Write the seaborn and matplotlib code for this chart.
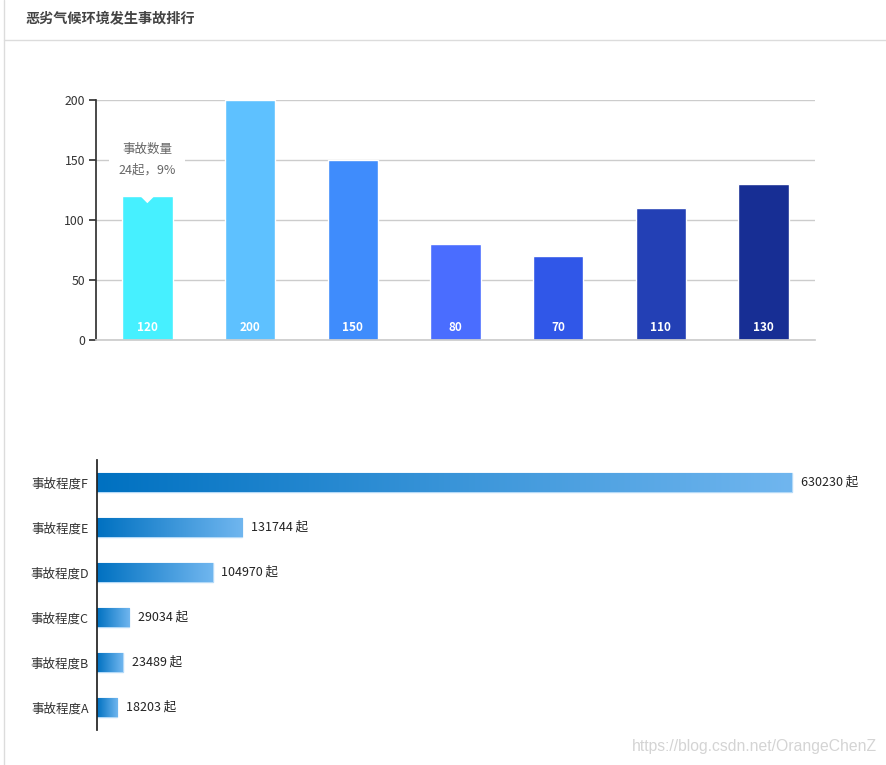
"""
Bad-weather accident ranking: column chart on top, gradient bar chart below.
"""

import numpy as np
import pandas as pd
import seaborn as sns
import matplotlib.pyplot as plt
from matplotlib.patches import Rectangle, Polygon
from matplotlib.colors import LinearSegmentedColormap
from matplotlib.lines import Line2D

# Data
title = '恶劣气候环境发生事故排行'
col_cats = ['1', '2', '3', '4', '5', '6', '7']
col_values = [120, 200, 150, 80, 70, 110, 130]
col_colors = ['#46F0FF', '#5EC1FF', '#3F8CFC', '#4A6DFF', '#3057E8', '#2340B5', '#172E94']
y_ticks = [0, 50, 100, 150, 200]
tip_title = '事故数量'
tip_text = '24起，9%'

bar_cats = ['事故程度F', '事故程度E', '事故程度D', '事故程度C', '事故程度B', '事故程度A']
bar_values = [630230, 131744, 104970, 29034, 23489, 18203]
unit = '起'
watermark = 'https://blog.csdn.net/OrangeChenZ'

W, H = 887, 765
sns.set_theme(style='white')
plt.rcParams['font.family'] = ['Noto Sans CJK SC', 'DejaVu Sans']

fig = plt.figure(figsize=(W / 100, H / 100), dpi=100)
fig.patch.set_facecolor('white')


def px_rect(left, top, right, bottom):
    return [left / W, 1 - bottom / H, (right - left) / W, (bottom - top) / H]


# frame lines and title
fig.add_artist(Line2D([4.5 / W, 4.5 / W], [0, 1], color='#dcdcdc', lw=1))
fig.add_artist(Line2D([4.5 / W, 1], [1 - 39.5 / H, 1 - 39.5 / H], color='#dcdcdc', lw=1))
fig.text(25 / W, 1 - 19 / H, title, fontsize=10.2, color='#444444', fontweight='bold',
         va='center', ha='left')

# ---- top column chart ----
ax1 = fig.add_axes(px_rect(96, 100, 815, 340))
df1 = pd.DataFrame({'cat': col_cats, 'value': col_values})
sns.barplot(data=df1, x='cat', y='value', hue='cat', palette=col_colors, legend=False,
            width=0.49, saturation=1, ax=ax1, zorder=2)
ax1.set_ylim(0, 200)
ax1.set_xlim(-0.5, len(col_cats) - 0.5)
ax1.set_yticks(y_ticks)
ax1.set_xticks([])
ax1.set_xlabel('')
ax1.set_ylabel('')
ax1.yaxis.grid(True, color='#cccccc', lw=1, zorder=0)
ax1.set_axisbelow(True)
for s in ['top', 'right']:
    ax1.spines[s].set_visible(False)
ax1.spines['left'].set_color('#333333')
ax1.spines['bottom'].set_color('#cccccc')
ax1.tick_params(axis='y', left=True, length=5, color='#333333', labelsize=8.8,
                labelcolor='#333333', pad=3)
for i, v in enumerate(col_values):
    ax1.text(i, 5, str(v), ha='center', va='bottom', color='white', fontsize=8.5,
             fontweight='bold', zorder=4)

# tooltip over first column
ax1.add_patch(Rectangle((-0.37, col_values[0]), 0.74, 55, facecolor='white',
                        edgecolor='none', zorder=3))
ax1.add_patch(Polygon([(-0.07, col_values[0]), (0.07, col_values[0]), (0, col_values[0] - 6)],
                      closed=True, facecolor='white', edgecolor='none', zorder=3))
ax1.text(0, 159, tip_title, ha='center', va='center', fontsize=9, color='#666666', zorder=4)
ax1.text(0, 141.5, tip_text, ha='center', va='center', fontsize=9, color='#666666', zorder=4)

# ---- bottom gradient bar chart ----
ax2 = fig.add_axes(px_rect(97, 460, 887, 730))
df2 = pd.DataFrame({'cat': bar_cats, 'value': bar_values})
sns.barplot(data=df2, y='cat', x='value', orient='h', color='#2a8ad6', width=0.44,
            saturation=1, ax=ax2)
xmax = bar_values[0] * (887 - 97) / 695
ax2.set_xlim(0, xmax)
ax2.set_xlabel('')
ax2.set_ylabel('')
ax2.set_xticks([])
for s in ['top', 'right', 'bottom']:
    ax2.spines[s].set_visible(False)
ax2.spines['left'].set_color('#222222')
ax2.tick_params(axis='y', left=False, length=0, labelsize=9, labelcolor='#333333', pad=6)

cmap = LinearSegmentedColormap.from_list('grad', ['#0071C1', '#70B6EF'])
grad = np.linspace(0, 1, 256).reshape(1, -1)
for p in ax2.patches:
    x0, y0 = p.get_x(), p.get_y()
    w, h = p.get_width(), p.get_height()
    p.set_facecolor('none')
    p.set_edgecolor('#b3d9f7')
    p.set_linewidth(1)
    im = ax2.imshow(grad, cmap=cmap, aspect='auto', extent=[x0, x0 + w, y0 + h, y0],
                    zorder=1)
    im.set_clip_path(p)
ax2.set_xlim(0, xmax)
ax2.set_ylim(len(bar_cats) - 0.5, -0.5)

for i, v in enumerate(bar_values):
    ax2.text(v + xmax * 0.011, i, f'{v} {unit}', ha='left', va='center', fontsize=9,
             color='#222222')

fig.text(877 / W, 1 - 746 / H, watermark, ha='right', va='center', fontsize=11.3,
         color='#d4d4d4', family=['Liberation Sans', 'DejaVu Sans'])

fig.savefig('out.png', dpi=100)
